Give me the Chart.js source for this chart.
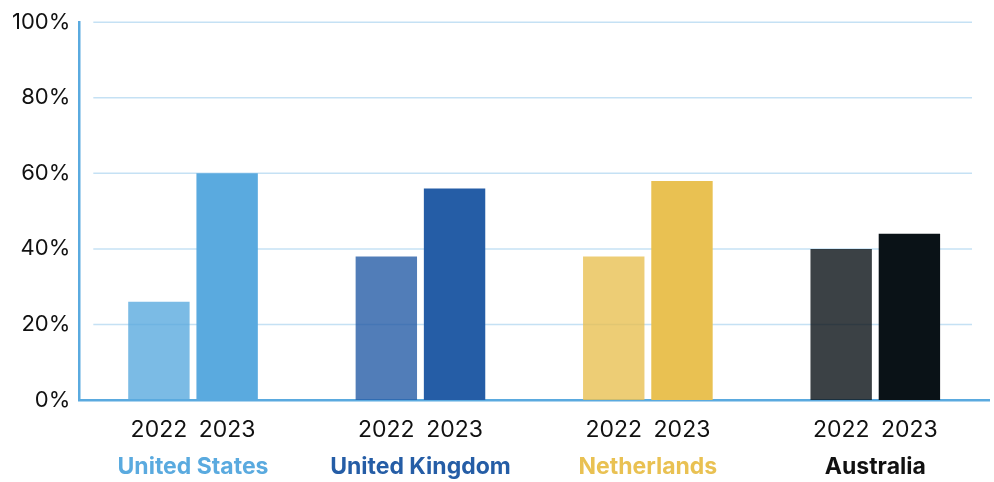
<!DOCTYPE html>
<html lang="en">
<head>
    <meta charset="UTF-8">
    <title>Share by Country</title>
    <script src="https://cdnjs.cloudflare.com/ajax/libs/Chart.js/4.4.1/chart.umd.min.js"></script>
    <style>
        html, body { margin: 0; padding: 0; background: #fff; }
        .chart-box { position: relative; width: 994px; height: 482px; }
    </style>
</head>
<body>
    <div class="chart-box">
        <canvas id="countryChart"></canvas>
    </div>
    <script>
        // Data
        const countries = ['United States', 'United Kingdom', 'Netherlands', 'Australia'];
        const years = ['2022', '2023'];
        const values2022 = [26, 38, 38, 40];
        const values2023 = [60, 56, 58, 44];
        const yTicks = [0, 20, 40, 60, 80, 100];

        // Colours per country (2023 solid, 2022 same colour with alpha)
        const countryColors = ['#5AAADF', '#255DA6', '#E9C152', '#0A1217'];
        const colors2022 = ['rgba(90,170,223,0.8)', 'rgba(37,93,166,0.8)', 'rgba(233,193,82,0.8)', 'rgba(10,18,23,0.8)'];
        const labelColors = ['#5AAADF', '#255DA6', '#E9C152', '#111111'];

        const FONT = 'Inter, "Noto Sans", sans-serif';

        // light grid lines, inset from the axes
        const insetGrid = {
            id: 'insetGrid',
            beforeDatasetsDraw(chart) {
                const { ctx, chartArea, scales } = chart;
                ctx.save();
                ctx.strokeStyle = 'rgba(90,170,223,0.35)';
                ctx.lineWidth = 1.5;
                yTicks.forEach(v => {
                    if (v === 0) return;
                    const y = scales.y.getPixelForValue(v);
                    ctx.beginPath();
                    ctx.moveTo(chartArea.left + 14, y);
                    ctx.lineTo(chartArea.right - 17, y);
                    ctx.stroke();
                });
                ctx.restore();
            }
        };

        // year label under each bar, country name under each group
        const bottomLabels = {
            id: 'bottomLabels',
            afterDraw(chart) {
                const { ctx, chartArea, scales } = chart;
                ctx.save();
                ctx.textAlign = 'center';
                ctx.textBaseline = 'middle';
                ctx.font = '23px ' + FONT;
                ctx.fillStyle = '#111';
                chart.data.datasets.forEach((ds, i) => {
                    chart.getDatasetMeta(i).data.forEach(bar => {
                        ctx.fillText(ds.label, bar.x, chartArea.bottom + 30);
                    });
                });
                ctx.font = 'bold 23px ' + FONT;
                countries.forEach((name, i) => {
                    ctx.fillStyle = labelColors[i];
                    ctx.fillText(name, scales.x.getPixelForValue(i), chartArea.bottom + 67);
                });
                ctx.restore();
            }
        };

        const ctx = document.getElementById('countryChart').getContext('2d');
        const chart = new Chart(ctx, {
            type: 'bar',
            data: {
                labels: countries,
                datasets: [
                    { label: years[0], data: values2022, backgroundColor: colors2022 },
                    { label: years[1], data: values2023, backgroundColor: countryColors }
                ]
            },
            options: {
                responsive: true,
                maintainAspectRatio: false,
                animation: false,
                layout: { padding: { left: 3, right: 5, top: 10, bottom: 82 } },
                datasets: {
                    bar: { barPercentage: 0.9, categoryPercentage: 0.6 }
                },
                plugins: {
                    legend: { display: false },
                    tooltip: { enabled: false }
                },
                scales: {
                    x: {
                        grid: { display: false, drawTicks: false },
                        border: { color: '#5AAADF', width: 2.5 },
                        ticks: { display: false }
                    },
                    y: {
                        min: 0,
                        max: 100,
                        grid: { display: false, drawTicks: false },
                        border: { color: '#5AAADF', width: 2.5 },
                        ticks: {
                            stepSize: 20,
                            padding: 9,
                            color: '#111',
                            font: { family: FONT, size: 22 },
                            callback: (v) => v + '%'
                        }
                    }
                }
            },
            plugins: [insetGrid, bottomLabels]
        });
    </script>
</body>
</html>
